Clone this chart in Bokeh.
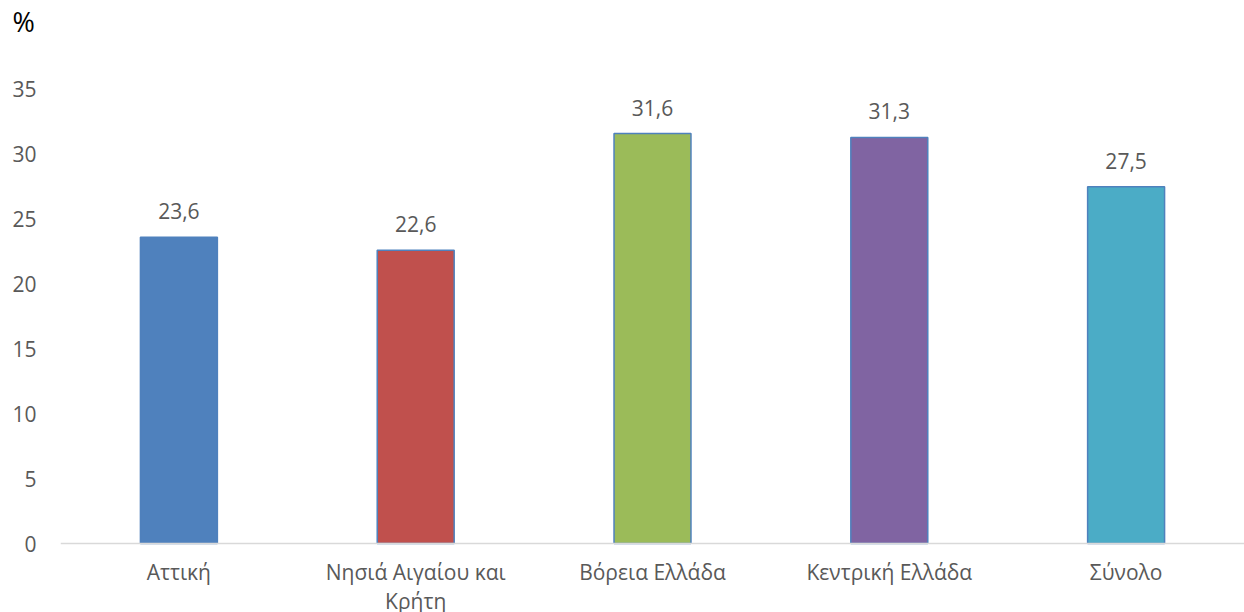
from bokeh.plotting import figure
from bokeh.models import ColumnDataSource, FixedTicker, Range1d, Span
from bokeh.core.properties import value
from bokeh.embed import file_html
from bokeh.resources import INLINE

categories = ["Αττική", "Νησιά Αιγαίου και Κρήτη", "Βόρεια Ελλάδα", "Κεντρική Ελλάδα", "Σύνολο"]
tick_labels = ["Αττική", "Νησιά Αιγαίου και\nΚρήτη", "Βόρεια Ελλάδα", "Κεντρική Ελλάδα", "Σύνολο"]
values = [23.6, 22.6, 31.6, 31.3, 27.5]
colors = ["#4F81BD", "#C0504D", "#9BBB59", "#8064A2", "#4BACC6"]
y_ticks = [0, 5, 10, 15, 20, 25, 30, 35]

FONT = "Open Sans"
GREY = "#595959"
FS = "21px"

xs = [i + 0.5 for i in range(len(categories))]
src = ColumnDataSource(dict(
    x=xs, top=values, color=colors,
    label=[f"{v:.1f}".replace(".", ",") for v in values],
))
cat_src = ColumnDataSource(dict(x=xs, y=[0] * len(xs), text=tick_labels))

# frame spans to the bottom edge so the wrapped category label can extend below
p = figure(width=1244, height=612, output_backend="svg", toolbar_location=None,
           x_range=Range1d(0, 5), y_range=Range1d(-69 / 13, 505 / 13),
           x_axis_location=None,
           min_border_left=60, min_border_right=0, min_border_top=0, min_border_bottom=0,
           title="%")
p.title.text_font = FONT
p.title.text_font_size = "27px"
p.title.text_font_style = "normal"
p.title.text_color = "#000000"
p.title.align = "left"
p.title.offset = -48
p.title.standoff = 0
p.outline_line_color = None
p.grid.visible = False
p.background_fill_color = "white"
p.border_fill_color = "white"

p.add_layout(Span(location=0, dimension="width", line_color="#D9D9D9", line_width=1.5))

p.vbar(x="x", top="top", width=0.325, bottom=0, source=src, fill_color="color",
       line_color="#4F81BD", line_width=1.5)
p.text(x="x", y="top", text="label", source=src, text_align="center",
       text_baseline="alphabetic", y_offset=-26, text_font=value(FONT),
       text_font_size=FS, text_color=GREY)

# category labels under the baseline
p.text(x="x", y="y", text="text", source=cat_src, text_align="center",
       text_baseline="top", y_offset=14, text_font=value(FONT),
       text_font_size=FS, text_color=GREY, text_line_height=1.05)

p.yaxis.ticker = FixedTicker(ticks=y_ticks)
p.yaxis.axis_line_color = None
p.yaxis.major_tick_line_color = None
p.yaxis.major_tick_out = 0
p.yaxis.major_tick_in = 0
p.yaxis.minor_tick_line_color = None
p.yaxis.major_label_text_font = FONT
p.yaxis.major_label_text_font_size = FS
p.yaxis.major_label_text_color = GREY
p.yaxis.major_label_standoff = 24

open("out.html", "w").write(file_html(p, INLINE))
